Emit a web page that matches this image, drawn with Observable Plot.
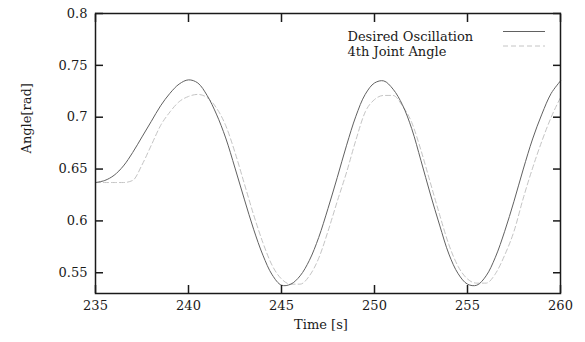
<!DOCTYPE html>
<html><head><meta charset="utf-8">
<script src="https://cdn.jsdelivr.net/npm/d3@7"></script>
<script src="https://cdn.jsdelivr.net/npm/@observablehq/plot@0.6"></script>
<style>
html,body{margin:0;padding:0;background:#fff;}
</style>
</head><body><div id="chart"></div>
<script>
const time = [235,235.5,236,236.5,237,237.5,238,238.5,239,239.5,
  240,240.5,241,241.5,242,242.5,243,243.5,244,244.5,
  245,245.5,246,246.5,247,247.5,248,248.5,249,249.5,
  250,250.5,251,251.5,252,252.5,253,253.5,254,254.5,
  255,255.5,256,256.5,257,257.5,258,258.5,259,259.5,260];
const desired = [0.637,0.639,0.644,0.653,0.666,0.681,0.696,0.711,0.723,0.732,
  0.736,0.733,0.721,0.703,0.680,0.651,0.621,0.592,0.567,0.548,
  0.538,0.539,0.547,0.562,0.584,0.612,0.642,0.673,0.701,0.722,
  0.733,0.735,0.727,0.712,0.689,0.658,0.626,0.596,0.568,0.549,
  0.539,0.538,0.547,0.565,0.590,0.619,0.650,0.679,0.703,0.723,0.735];
const joint = [0.637,0.637,0.637,0.637,0.639,0.654,0.673,0.692,0.705,0.715,
  0.720,0.722,0.719,0.709,0.692,0.666,0.636,0.606,0.579,0.557,
  0.544,0.539,0.539,0.547,0.564,0.590,0.619,0.647,0.678,0.705,
  0.717,0.721,0.721,0.711,0.695,0.668,0.637,0.606,0.577,0.556,
  0.544,0.540,0.540,0.549,0.567,0.590,0.622,0.651,0.677,0.700,0.719];
const xTicks = [235,240,245,250,255,260];
const yTicks = [0.55,0.6,0.65,0.7,0.75,0.8];
const seriesNames = ["Desired Oscillation","4th Joint Angle"];
const xLabel = "Time [s]";
const yLabel = "Angle[rad]";

const rowsDesired = time.map((t,i)=>({t, v: desired[i]}));
const rowsJoint = time.map((t,i)=>({t, v: joint[i]}));

const solidColor = "#616161";
const dashColor = "#c4c4c4";
const dash = "5,3";
const W = 585, H = 342, mL = 95, mR = 25, mT = 13, mB = 49;

const plot = Plot.plot({
  width: W, height: H,
  marginLeft: mL, marginRight: mR, marginTop: mT, marginBottom: mB,
  style: {fontFamily: "'DejaVu Serif', serif", fontSize: "13px", color: "#1a1a1a", background: "white"},
  x: {domain: [235, 260]},
  y: {domain: [0.53, 0.8]},
  marks: [
    Plot.line(rowsJoint, {x: "t", y: "v", stroke: dashColor, strokeWidth: 1, strokeDasharray: dash, curve: "monotone-x"}),
    Plot.line(rowsDesired, {x: "t", y: "v", stroke: solidColor, strokeWidth: 1, curve: "catmull-rom"}),
    Plot.frame({stroke: "#1a1a1a", strokeWidth: 1.5}),
    Plot.axisX(xTicks, {anchor: "bottom", tickSize: 8, dy: -8, fill: "none", label: null, strokeWidth: 1.5}),
    Plot.axisX(xTicks, {anchor: "top", tickSize: 8, dy: 8, fill: "none", label: null, strokeWidth: 1.5}),
    Plot.axisY(yTicks, {anchor: "left", tickSize: 8, dx: 8, fill: "none", label: null, strokeWidth: 1.5}),
    Plot.axisY(yTicks, {anchor: "right", tickSize: 8, dx: -8, fill: "none", label: null, strokeWidth: 1.5}),
    Plot.axisX(xTicks, {anchor: "bottom", tickSize: 0, tickPadding: 7, label: null, tickFormat: d => String(d)}),
    Plot.axisY(yTicks, {anchor: "left", tickSize: 0, tickPadding: 8, label: null, tickFormat: d => String(d)}),
    Plot.text([xLabel], {frameAnchor: "bottom", dx: -7, dy: 35, text: d => d}),
    Plot.text([yLabel], {frameAnchor: "left", dx: -69, rotate: -90, text: d => d}),
    Plot.text([seriesNames[0]], {frameAnchor: "top-left", dx: 252, dy: 18, textAnchor: "start", text: d => d}),
    Plot.text([seriesNames[1]], {frameAnchor: "top-left", dx: 252, dy: 33, textAnchor: "start", text: d => d})
  ]
});
document.getElementById("chart").appendChild(plot);

// legend sample lines
const svg = d3.select(plot);
const lx1 = W - mR - 57, lx2 = W - mR - 15;
svg.append("line").attr("x1", lx1).attr("x2", lx2).attr("y1", mT + 18.5).attr("y2", mT + 18.5)
  .attr("stroke", solidColor).attr("stroke-width", 1);
svg.append("line").attr("x1", lx1).attr("x2", lx2).attr("y1", mT + 33).attr("y2", mT + 33)
  .attr("stroke", dashColor).attr("stroke-width", 1).attr("stroke-dasharray", dash);
</script>
</body></html>
